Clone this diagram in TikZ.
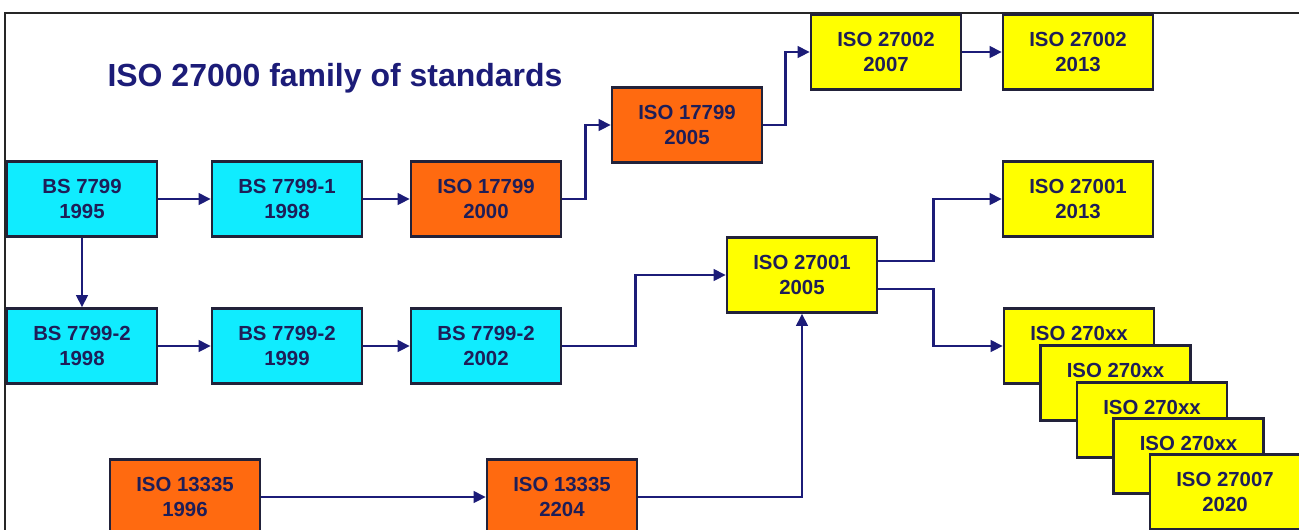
\documentclass[tikz,border=0pt]{standalone}
\usepackage{fontspec}
\setmainfont{Liberation Sans}
\usetikzlibrary{arrows.meta}
\definecolor{navy}{HTML}{1C1C78}
\definecolor{txt}{HTML}{1E1E58}
\definecolor{bcyan}{HTML}{10ECFF}
\definecolor{borange}{HTML}{FF6A10}
\definecolor{byellow}{HTML}{FFFF00}
\definecolor{edge}{HTML}{22223A}
\tikzset{
  box/.style={draw=edge, line width=1.3pt, minimum width=3cm, minimum height=1.5cm,
    align=center, text=txt, inner sep=0pt,
    font=\fontsize{11.6}{14.2}\selectfont\bfseries},
  cbox/.style={box, fill=bcyan},
  obox/.style={box, fill=borange},
  ybox/.style={box, fill=byellow},
  conn/.style={draw=navy, line width=1.6pt, -{Triangle[length=7pt,width=6.5pt]}}
}
\begin{document}
\begin{tikzpicture}[x=0.02cm, y=-0.02cm]
\useasboundingbox (0,0) rectangle (1299,529);
\clip (0,0) rectangle (1299,529);
\fill[white] (0,0) rectangle (1299,529);
\draw[black!85, line width=0.6pt] (5,13) rectangle (1320,560);

\node[text=navy, font=\fontsize{18.2}{20}\selectfont\bfseries] (title) at (335,78) {ISO 27000 family of standards};

\node[cbox] (a1) at (82,199) {BS 7799\\1995};
\node[cbox] (a2) at (287,199) {BS 7799-1\\1998};
\node[obox] (a3) at (486,199) {ISO 17799\\2000};
\node[obox] (a4) at (687,125) {ISO 17799\\2005};
\node[ybox] (a5) at (886,52) {ISO 27002\\2007};
\node[ybox] (a6) at (1078,52) {ISO 27002\\2013};

\node[cbox] (b1) at (82,346) {BS 7799-2\\1998};
\node[cbox] (b2) at (287,346) {BS 7799-2\\1999};
\node[cbox] (b3) at (486,346) {BS 7799-2\\2002};

\node[ybox] (c) at (802,275) {ISO 27001\\2005};
\node[ybox] (d) at (1078,199) {ISO 27001\\2013};

\node[obox] (e1) at (185,497) {ISO 13335\\1996};
\node[obox] (e2) at (562,497) {ISO 13335\\2204};

\node[ybox] (s1) at (1079,346) {ISO 270xx\\\phantom{2020}};
\node[ybox] (s2) at (1115.5,383) {ISO 270xx\\\phantom{2020}};
\node[ybox] (s3) at (1152,420) {ISO 270xx\\\phantom{2020}};
\node[ybox] (s4) at (1188.5,456) {ISO 270xx\\\phantom{2020}};
\node[ybox] (s5) at (1225,492) {ISO 27007\\2020};

\draw[conn] (a1) -- (a2);
\draw[conn] (a2) -- (a3);
\draw[conn] (a3.east) -- ++(23,0) |- (a4.west);
\draw[conn] (a4.east) -- ++(22,0) |- (a5.west);
\draw[conn] (a5) -- (a6);
\draw[conn] (a1) -- (b1);
\draw[conn] (b1) -- (b2);
\draw[conn] (b2) -- (b3);
\draw[conn] (b3.east) -- ++(73,0) |- (c.west);
\draw[conn] (e1) -- (e2);
\draw[conn] (e2.east) -| (c.south);
\draw[conn] ([yshift=0.28cm]c.east) -- ++(55,0) |- (d.west);
\draw[conn] ([yshift=-0.28cm]c.east) -- ++(55,0) |- (s1.west);
\end{tikzpicture}
\end{document}
